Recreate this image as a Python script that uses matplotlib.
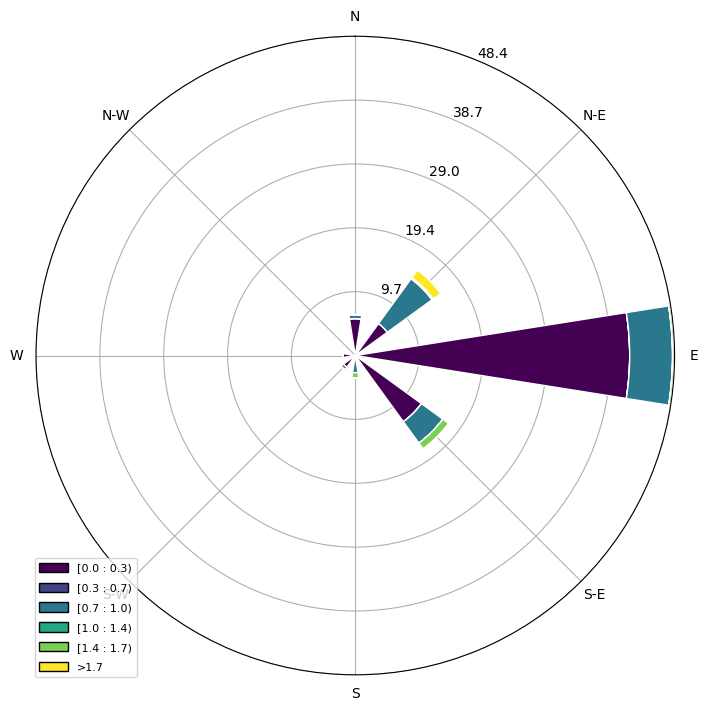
import numpy as np
import matplotlib.pyplot as plt
from matplotlib.patches import Rectangle

# 16 compass sectors (degrees clockwise from north)
sectors = ["N", "NNE", "NE", "ENE", "E", "ESE", "SE", "SSE",
           "S", "SSW", "SW", "WSW", "W", "WNW", "NW", "NNW"]
bin_labels = ["[0.0 : 0.3)", "[0.3 : 0.7)", "[0.7 : 1.0)",
              "[1.0 : 1.4)", "[1.4 : 1.7)", ">1.7"]

# frequency (%) per speed bin, one value per sector
bin0 = [5.6, 0, 6.0, 0, 41.6, 0, 12.4, 0, 0.3, 0, 2.2, 0, 1.9, 0, 0, 0]
bin1 = [0, 0, 0, 0, 0, 0, 0, 0, 0, 0, 0, 0, 0, 0, 0, 0]
bin2 = [0.6, 0, 8.4, 0, 6.5, 0, 4.0, 0, 2.3, 0, 0.5, 0, 0, 0, 0, 0]
bin3 = [0, 0, 0, 0, 0, 0, 0, 0, 0, 0, 0, 0, 0, 0, 0, 0]
bin4 = [0, 0, 0.2, 0, 0.3, 0, 1.1, 0, 0.8, 0, 0, 0, 0, 0, 0, 0]
bin5 = [0, 0, 1.4, 0, 0, 0, 0, 0, 0, 0, 0, 0, 0, 0, 0, 0]

table = np.array([bin0, bin1, bin2, bin3, bin4, bin5])
colors = plt.cm.viridis(np.linspace(0, 1, len(bin_labels)))

fig = plt.figure(figsize=(7.1, 7.12), dpi=100)
ax = fig.add_axes([0.0507, 0.0522, 0.8994, 0.8969], projection="polar")
ax.set_theta_zero_location("N")
ax.set_theta_direction(-1)

nsector = len(sectors)
angles = np.deg2rad(np.arange(nsector) * 360 / nsector)
width = 2 * np.pi / nsector * 0.8

bottom = np.zeros(nsector)
for i in range(len(bin_labels)):
    vals = table[i]
    ax.bar(angles, vals, width=width, bottom=bottom, color=colors[i],
           edgecolor="white", linewidth=1, zorder=2)
    bottom += vals

rmax = bottom.max()
ax.set_ylim(0, rmax)
radii = np.linspace(0, rmax, 6)[1:]
ax.set_rgrids(radii, ["%.1f" % r for r in radii], angle=22.5)
ax.set_thetagrids([90, 45, 0, 315, 270, 225, 180, 135],
                  ["E", "N-E", "N", "N-W", "W", "S-W", "S", "S-E"])
ax.grid(True, color="#b0b0b0", linewidth=0.8)
ax.set_axisbelow(True)

handles = [Rectangle((0, 0), 0.2, 0.2, facecolor=c, edgecolor="black")
           for c in colors]
fig.legend(handles, bin_labels, loc="lower left",
           bbox_to_anchor=(35 / 710, 35 / 712), borderaxespad=0,
           fontsize=8, handlelength=2.6, handleheight=0.9,
           labelspacing=0.85)

fig.savefig("out.png", dpi=100)
